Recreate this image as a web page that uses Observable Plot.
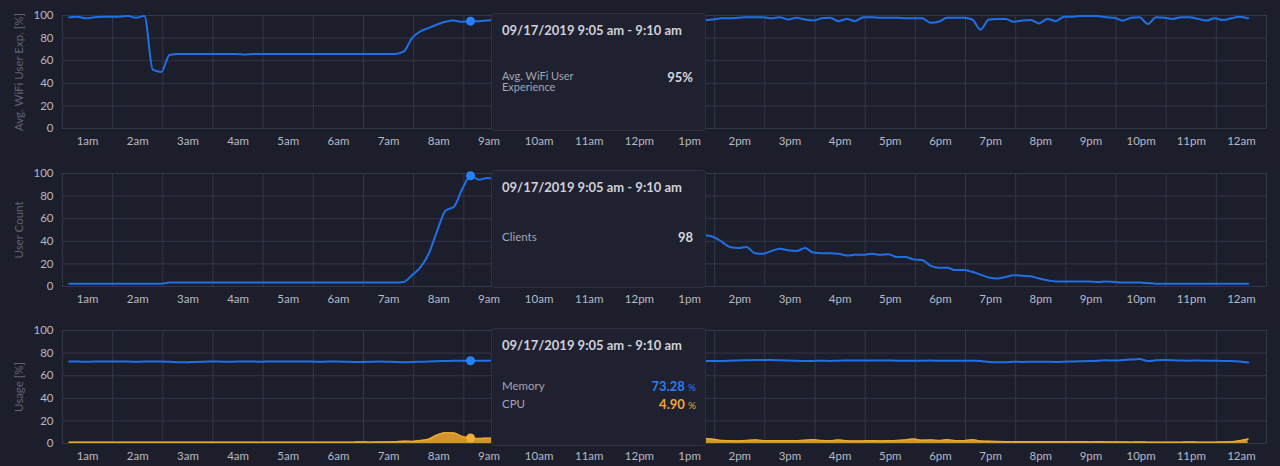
<!DOCTYPE html>
<html><head><meta charset="utf-8">
<script src="https://cdn.jsdelivr.net/npm/d3@7"></script>
<script src="https://cdn.jsdelivr.net/npm/@observablehq/plot@0.6"></script>
<style>
body{margin:0;background:#1d1e2b;font-family:Lato,"Noto Sans",sans-serif;}
#wrap{position:relative;width:1280px;height:466px;overflow:hidden;background:#1d1e2b}
.panel{position:relative;width:1280px;height:157.5px}
.panel svg{display:block}
.panel svg [aria-label="y-axis label"] text{fill:#5f6274}
.tip{position:absolute;left:491px;top:12.5px;width:215px;height:118px;background:#1f2030;border:1px solid #2e3042;border-radius:3px;box-sizing:border-box}
.tip .t{position:absolute;left:10px;top:8px;font-size:13px;font-weight:700;color:#cfd1d9;white-space:nowrap}
.tip .l{position:absolute;left:10px;font-size:11px;line-height:11px;color:#a4a6b1}
.tip .v{position:absolute;right:12px;font-size:13px;font-weight:700;color:#d6d8df}
.tip .v small{font-size:10px;font-weight:400}
</style>
</head><body>
<div id="wrap"></div>
<script>
// time axis: first sample at 1:08, one sample every 10 minutes
const startHour = 1 + 8 / 60;
const stepHours = 10 / 60;
const hoverIndex = 48;

const hourLabels = ["1am","2am","3am","4am","5am","6am","7am","8am","9am","10am","11am","12pm",
  "1pm","2pm","3pm","4pm","5pm","6pm","7pm","8pm","9pm","10pm","11pm","12am"];
const yTicks = [0, 20, 40, 60, 80, 100];

const wifiUX = [
  98.5, 99, 97.5, 98.5, 99, 99, 99, 99.5, 98, 99.5,
  52, 50, 65, 66, 66, 66, 66, 66, 66, 66,
  66, 65.5, 66, 66, 66, 66, 66, 66, 66, 66,
  66, 66, 66, 66, 66, 66, 66, 66, 66, 66,
  68, 80, 86, 89, 92, 94.5, 95.5, 94.5, 95, 95,
  95.5, 96, 96.5, 96, 97, 97, 96.5, 97, 97, 96.5,
  97, 97, 96.5, 96, 97, 97, 97.5, 97, 96.5, 97,
  97, 97.5, 97, 96.5, 96, 96, 96, 96.5, 97.5, 97.5,
  98, 98.5, 98.5, 98.5, 97.5, 98.5, 96.5, 98, 96.5, 95.5,
  97.5, 98, 95, 97, 95, 98.5, 98.5, 98, 98, 98,
  97.5, 97.5, 97.5, 93.5, 94.5, 98, 98, 98, 96.5, 87.5,
  96.5, 97, 97, 94.5, 95.5, 96, 93, 97, 95, 99,
  99, 99.5, 99.5, 99.5, 98.5, 98, 95.5, 98, 98.5, 92.5,
  98.5, 98, 97, 98.5, 98.5, 97, 95.5, 97.5, 96, 97.5,
  99, 97.5
];

const userCount = [
  2.5, 2.5, 2.5, 2.5, 2.5, 2.5, 2.5, 2.5, 2.5, 2.5,
  2.5, 2.5, 3.5, 3.5, 3.5, 3.5, 3.5, 3.5, 3.5, 3.5,
  3.5, 3.5, 3.5, 3.5, 3.5, 3.5, 3.5, 3.5, 3.5, 3.5,
  3.5, 3.5, 3.5, 3.5, 3.5, 3.5, 3.5, 3.5, 3.5, 3.5,
  4, 10, 17, 29, 49, 67, 70.5, 86, 98, 94.5,
  96, 95, 94, 92, 90, 88, 85, 83, 80, 78,
  75, 72, 70, 67, 65, 62, 60, 58, 56, 54,
  52, 50, 49, 48, 47, 46, 45.5, 44, 40, 35,
  34, 35, 29.5, 29, 31.5, 33.5, 32, 31.5, 34, 30,
  29.5, 29.5, 29, 27.5, 28, 28, 29, 28, 28.5, 26,
  26, 24, 23.5, 18.5, 16.5, 16.5, 14.5, 14.5, 13, 10.5,
  8, 7, 8.5, 10, 9.5, 9, 7, 5.5, 4.5, 4.5,
  4.5, 4.5, 4.5, 4, 4.5, 4, 3.5, 3.5, 3.5, 3,
  2.5, 2.5, 2.5, 2.5, 2.5, 2.5, 2.5, 2.5, 2.5, 2.5,
  2.5, 2.5
];

const memory = [
  72.5, 72.5, 72.4, 72.5, 72.5, 72.6, 72.5, 72.5, 72.4, 72.5,
  72.5, 72.5, 72.3, 72.0, 71.9, 72.2, 72.4, 72.5, 72.5, 72.4,
  72.5, 72.5, 72.5, 72.4, 72.5, 72.6, 72.5, 72.5, 72.5, 72.5,
  72.4, 72.5, 72.5, 72.4, 72.2, 72.2, 72.3, 72.5, 72.4, 72.1,
  72.0, 72.1, 72.3, 72.6, 72.8, 73.0, 73.2, 73.2, 73.28, 73.3,
  73.3, 73.2, 73.3, 73.3, 73.2, 73.1, 73.2, 73.3, 73.2, 73.1,
  73.0, 73.1, 73.2, 73.1, 73.0, 73.0, 73.1, 73.2, 73.1, 73.0,
  73.0, 73.1, 73.0, 72.9, 73.0, 72.9, 72.9, 72.9, 73.0, 73.2,
  73.5, 73.7, 73.9, 74.0, 73.9, 73.6, 73.4, 73.2, 73.0, 73.1,
  73.2, 73.1, 73.3, 73.4, 73.5, 73.4, 73.5, 73.5, 73.4, 73.3,
  73.3, 73.2, 73.3, 73.4, 73.3, 73.2, 73.3, 73.3, 73.2, 73.0,
  72.2, 71.9, 72.0, 72.3, 72.2, 72.3, 72.4, 72.3, 72.2, 72.3,
  72.6, 72.8, 72.9, 73.2, 73.6, 73.5, 73.8, 74.3, 74.7, 73.0,
  73.6, 73.8, 73.7, 73.4, 73.3, 73.4, 73.3, 73.2, 73.1, 73.1,
  72.6, 71.6
];

const cpu = [
  1.2, 1.1, 1.2, 1.2, 1.1, 1.2, 1.2, 1.1, 1.2, 1.2,
  1.1, 1.2, 1.2, 1.2, 1.1, 1.2, 1.2, 1.1, 1.2, 1.2,
  1.2, 1.1, 1.2, 1.2, 1.1, 1.2, 1.2, 1.1, 1.2, 1.2,
  1.1, 1.2, 1.2, 1.1, 1.2, 1.3, 1.2, 1.3, 1.4, 1.6,
  2.0, 1.8, 2.6, 3.8, 7.5, 9.5, 9.3, 6.2, 4.9, 4.4,
  4.7, 4.5, 4.2, 3.9, 3.6, 3.8, 3.5, 3.2, 3.4, 3.1,
  3.3, 3.0, 3.2, 3.5, 3.1, 3.3, 3.6, 3.2, 3.4, 3.7,
  3.5, 3.8, 3.6, 3.9, 4.1, 4.2, 4.4, 3.8, 2.6, 2.4,
  2.3, 2.6, 3.2, 2.5, 2.4, 2.5, 2.4, 2.5, 2.8, 3.4,
  2.6, 2.4, 3.1, 2.4, 2.2, 2.3, 2.4, 2.3, 2.4, 2.7,
  3.2, 3.9, 2.8, 3.0, 2.6, 3.3, 2.5, 2.4, 3.3, 2.2,
  1.9, 1.7, 1.6, 1.6, 1.5, 1.6, 1.5, 1.6, 1.5, 1.5,
  1.5, 1.5, 1.4, 1.5, 1.4, 1.3, 1.3, 1.2, 1.3, 1.2,
  1.2, 1.2, 1.2, 1.2, 1.3, 1.2, 1.2, 1.2, 1.3, 1.5,
  2.5, 4.0
];

const BLUE = "#1f70e6", DOT = "#2582ff", ORANGE = "#dc9a2c", ORANGE_LINE = "#eaa834";
const times = wifiUX.map((_, i) => startHour + i * stepHours);
const rows = (vals) => vals.map((v, i) => ({t: times[i], v}));
const gridHours = d3.range(1, 26);
const labelPos = hourLabels.map((_, i) => i + 1.5);

function makePlot(yLabel, marks) {
  return Plot.plot({
    width: 1280, height: 157, marginLeft: 62, marginRight: 14, marginTop: 15, marginBottom: 29,
    style: {background: "transparent", color: "#b7b9c4", fontFamily: "Lato, 'Noto Sans', sans-serif", fontSize: "11.5px", overflow: "visible"},
    x: {domain: [1, 25]},
    y: {domain: [0, 100]},
    marks: [
      Plot.gridX(gridHours, {stroke: "#34364a", strokeOpacity: 1}),
      Plot.gridY(yTicks, {stroke: "#34364a", strokeOpacity: 1}),
      Plot.axisX(labelPos, {tickSize: 0, tickPadding: 8, label: null,
        tickFormat: d => hourLabels[Math.round(d - 1.5)]}),
      Plot.axisY(yTicks, {tickSize: 0, tickPadding: 9, label: yLabel, labelAnchor: "center",
        labelArrow: "none", labelOffset: 48, fontSize: 11.5}),
      ...marks
    ]
  });
}

const wrap = document.getElementById("wrap");
function addPanel(plot, tipHtml) {
  const d = document.createElement("div");
  d.className = "panel";
  d.appendChild(plot);
  const tip = document.createElement("div");
  tip.className = "tip";
  tip.innerHTML = tipHtml;
  d.appendChild(tip);
  wrap.appendChild(d);
}
const tipTitle = `<div class="t">09/17/2019 9:05 am - 9:10 am</div>`;

const wifiRows = rows(wifiUX);
addPanel(makePlot("Avg. WiFi User Exp. [%]", [
  Plot.line(wifiRows, {x: "t", y: "v", stroke: BLUE, strokeWidth: 2, curve: "monotone-x"}),
  Plot.dot([wifiRows[hoverIndex]], {x: "t", y: "v", r: 4.5, fill: DOT})
]), tipTitle +
  `<div class="l" style="top:56px">Avg. WiFi User<br>Experience</div>` +
  `<div class="v" style="top:55px">95%</div>`);

const userRows = rows(userCount);
addPanel(makePlot("User Count", [
  Plot.line(userRows, {x: "t", y: "v", stroke: BLUE, strokeWidth: 2, curve: "monotone-x"}),
  Plot.dot([userRows[hoverIndex]], {x: "t", y: "v", r: 4.5, fill: DOT})
]), tipTitle +
  `<div class="l" style="top:60px;font-size:11.5px">Clients</div>` +
  `<div class="v" style="top:58px">98</div>`);

const memRows = rows(memory), cpuRows = rows(cpu);
addPanel(makePlot("Usage [%]", [
  Plot.areaY(cpuRows, {x: "t", y: "v", fill: ORANGE, fillOpacity: 0.95, curve: "monotone-x"}),
  Plot.line(cpuRows, {x: "t", y: "v", stroke: ORANGE_LINE, strokeWidth: 1.5, curve: "monotone-x"}),
  Plot.line(memRows, {x: "t", y: "v", stroke: BLUE, strokeWidth: 2, curve: "monotone-x"}),
  Plot.dot([memRows[hoverIndex]], {x: "t", y: "v", r: 4.5, fill: DOT}),
  Plot.dot([cpuRows[hoverIndex]], {x: "t", y: "v", r: 4.5, fill: "#f2ad3a"})
]), tipTitle +
  `<div class="l" style="top:51px;font-size:11.5px">Memory</div>` +
  `<div class="v" style="top:49px;color:#2a7df2;right:9px">73.28 <small>%</small></div>` +
  `<div class="l" style="top:69px;font-size:11.5px">CPU</div>` +
  `<div class="v" style="top:67px;color:#f0a832;right:9px">4.90 <small>%</small></div>`);
</script>
</body></html>
